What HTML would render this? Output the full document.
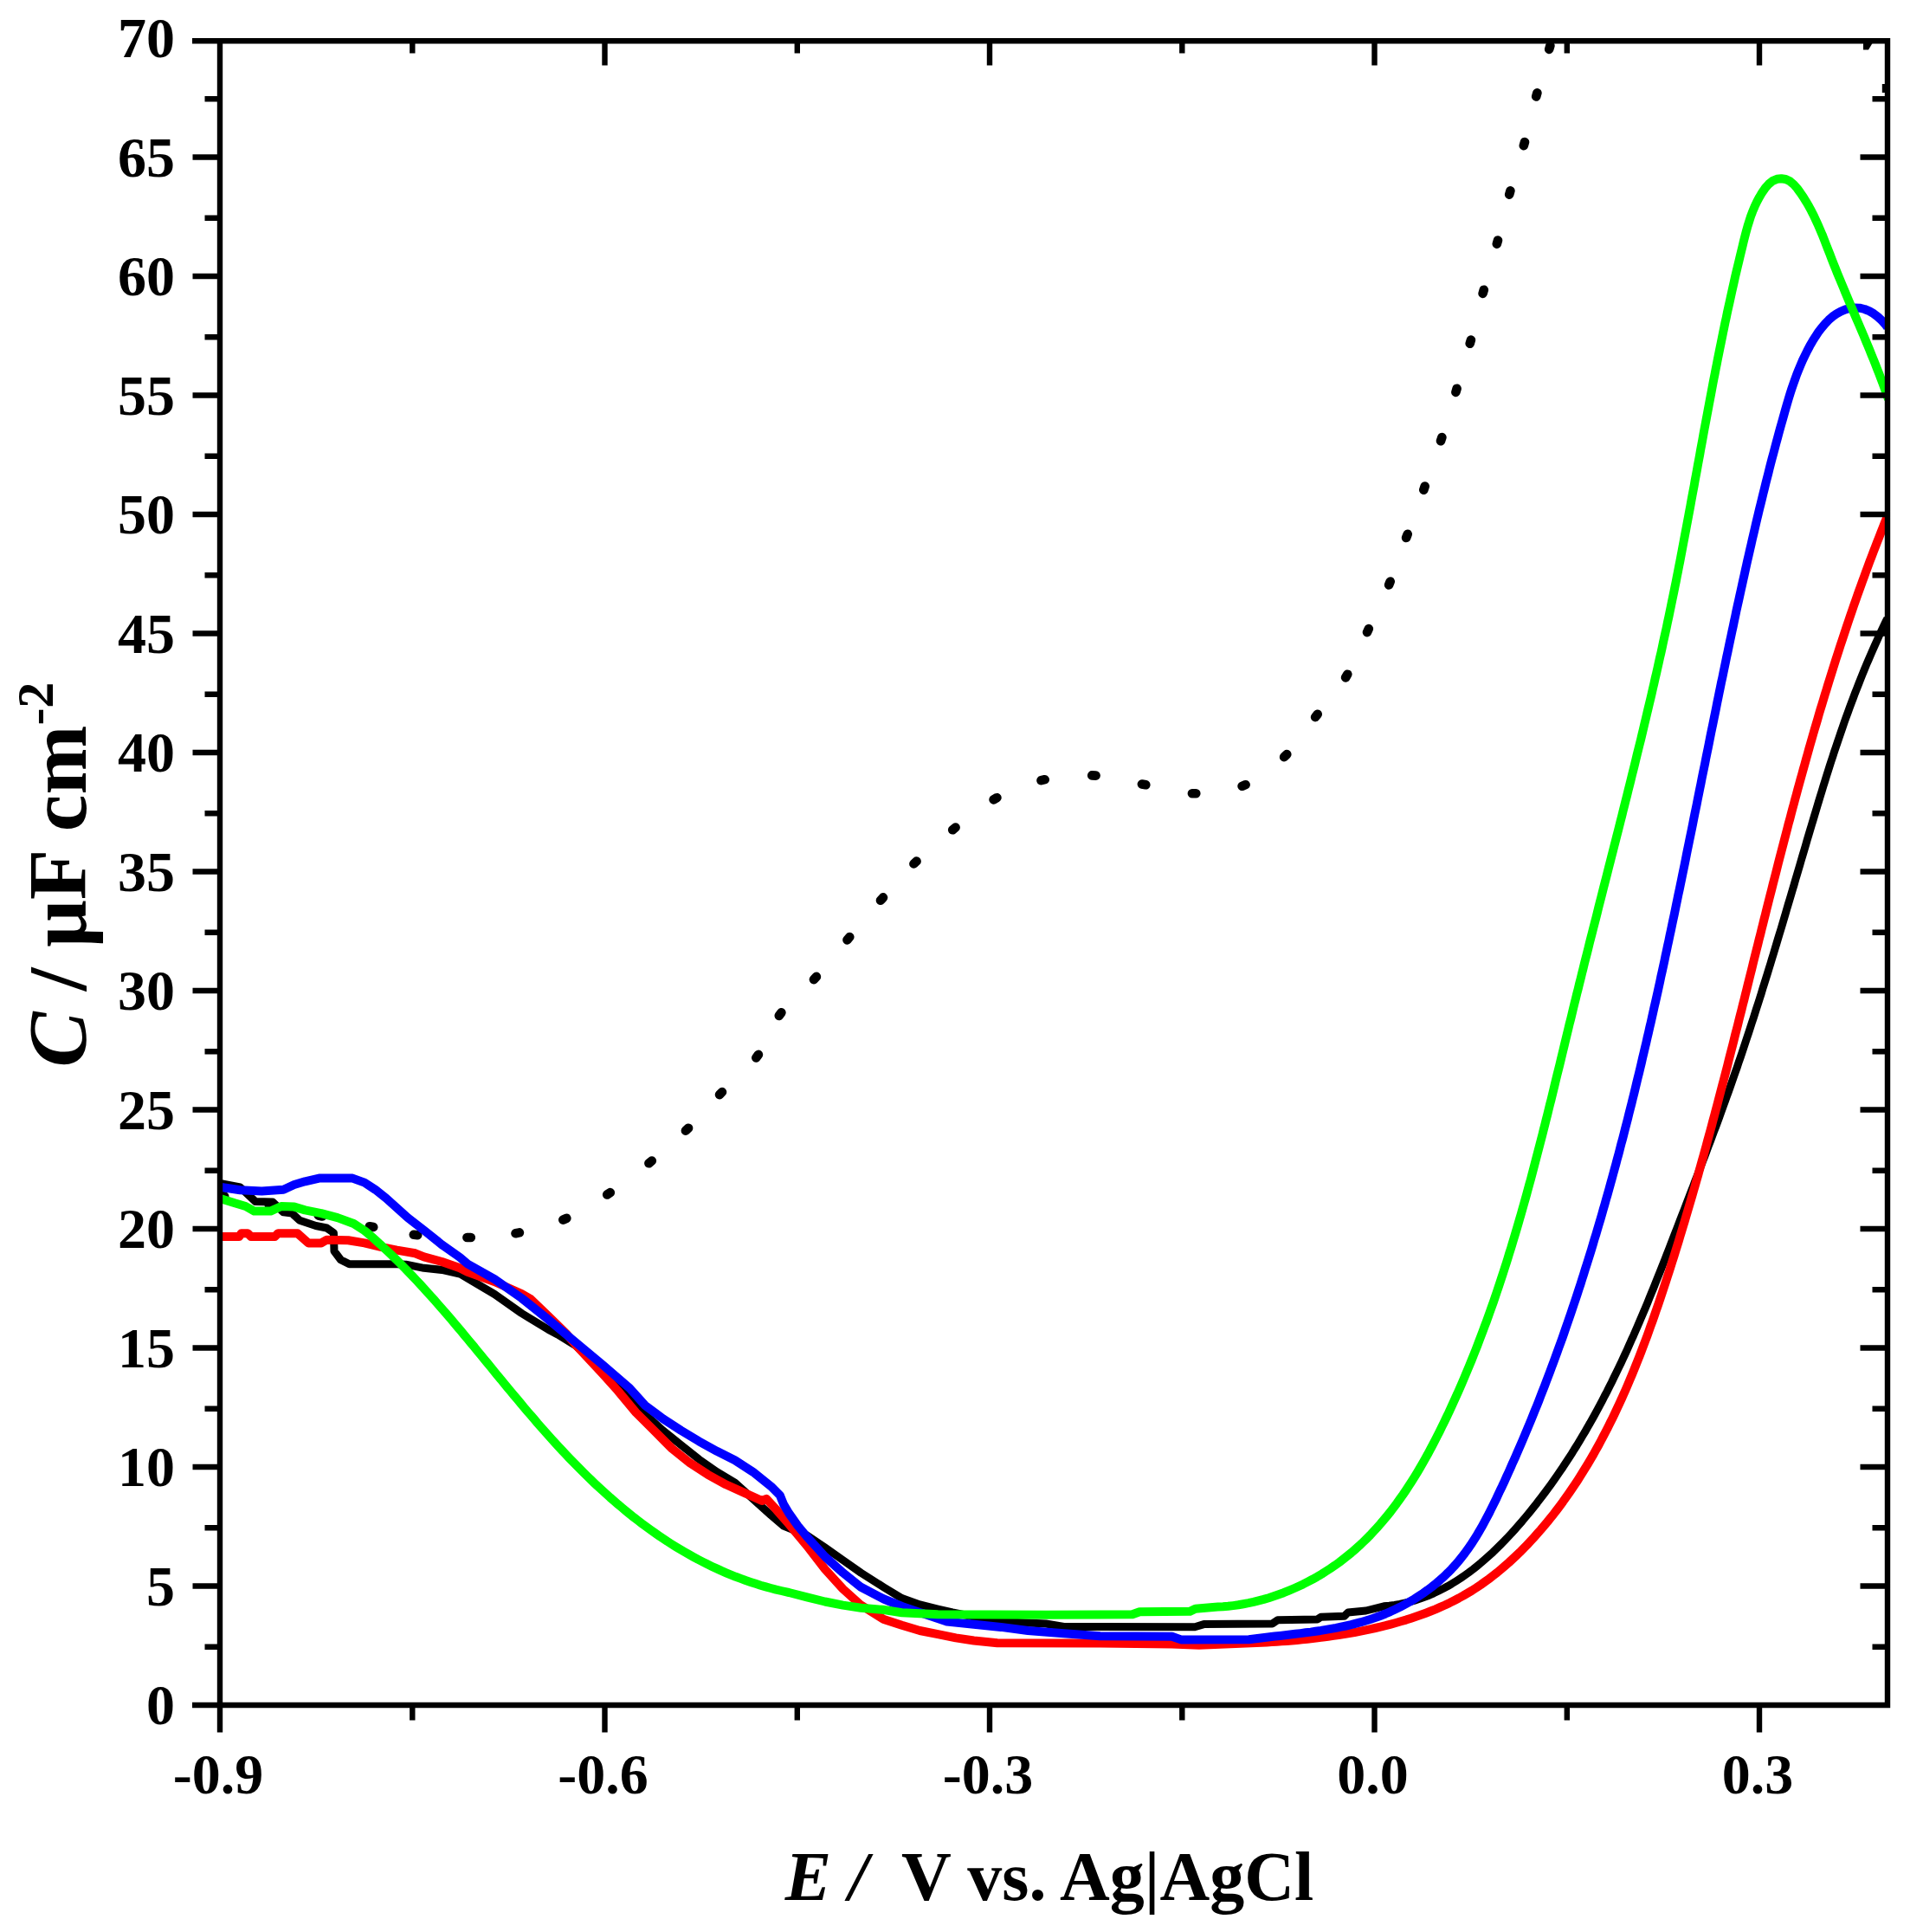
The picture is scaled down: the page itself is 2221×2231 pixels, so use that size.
<!DOCTYPE html>
<html><head><meta charset="utf-8"><title>Capacitance vs potential</title>
<style>html,body{margin:0;padding:0;background:#fff}body{width:2221px;height:2231px;position:relative;overflow:hidden}</style>
</head><body>
<svg width="2221" height="2231" viewBox="0 0 2221 2231" style="position:absolute;left:0;top:0">
<rect width="2221" height="2231" fill="#fff"/>
<defs><clipPath id="c"><rect x="254" y="47.3" width="1926" height="1921.7"/></clipPath></defs>
<g clip-path="url(#c)" fill="none" stroke-linejoin="round">
<path d="M254.8,1380.6L259.2,1381.4M310.8,1391.6L315.2,1392.4M367.8,1403.5L372.2,1404.5M426.8,1416.2L431.2,1417.0M477.8,1425.8L482.2,1426.2M539.4,1429.0L543.8,1429.0M595.5,1424.2L599.9,1423.4M650.3,1408.6L654.3,1406.8M701.2,1379.5L704.8,1377.1M749.4,1343.3L752.8,1340.5M791.9,1305.7L795.1,1302.7M831.0,1264.2L834.0,1261.0M873.3,1221.5L875.9,1217.9M899.8,1172.9L902.4,1169.3M939.9,1131.1L942.9,1127.9M978.5,1085.4L981.3,1082.0M1017.0,1039.8L1020.0,1036.4M1055.4,997.5L1058.6,994.5M1100.2,958.3L1103.6,955.5M1147.6,923.4L1151.4,921.2M1202.5,901.2L1206.7,900.2M1261.2,895.4L1265.6,895.6M1318.9,905.5L1323.3,906.3M1376.9,916.3L1381.3,916.3M1434.6,907.8L1438.6,906.2M1483.1,874.1L1486.3,871.1M1519.1,828.1L1521.7,824.7M1554.1,782.5L1556.3,778.7M1579.0,730.1L1580.8,726.1M1604.1,675.5L1605.7,671.5M1624.1,621.0L1625.7,616.8M1644.3,565.7L1645.7,561.5M1664.0,509.2L1665.4,505.0M1681.4,452.9L1682.6,448.7M1697.7,396.8L1698.9,392.6M1712.6,338.9L1713.8,334.7M1728.8,281.7L1730.0,277.5M1743.2,224.6L1744.4,220.4M1759.8,168.2L1761.0,164.0M1774.2,111.5L1775.4,107.3M1789.2,56.9L1790.4,52.7" stroke="#000" stroke-width="10.6" stroke-linecap="round"/>
<path d="M254.0,1366.5 L277.4,1371.0 L294.9,1387.4 L314.9,1388.0 L327.4,1399.9 L337.3,1401.1 L346.1,1409.2 L364.8,1415.5 L377.3,1418.0 L385.4,1423.6 L386.0,1444.8 L393.5,1454.8 L403.5,1459.8 L458.4,1459.8 L468.8,1460.2 L489.6,1464.3 L510.4,1466.4 L531.2,1471.0 L540.0,1476.2 L571.2,1494.5 L602.4,1516.5 L633.6,1535.5 L644.0,1541.0 L665.0,1554.0 L696.0,1582.0 L724.0,1610.0 L744.8,1633.1 L765.6,1651.8 L786.4,1668.5 L807.2,1685.1 L828.0,1699.7 L848.8,1712.2 L869.6,1730.9 L890.4,1749.6 L905.0,1762.1 L932.0,1773.0 L952.8,1787.0 L973.6,1801.6 L994.4,1816.2 L1020.8,1833.0 L1041.6,1845.6 L1062.4,1852.9 L1083.2,1858.1 L1100.0,1862.0 L1130.0,1868.0 L1154.0,1872.6 L1208.0,1875.0 L1228.8,1878.5 L1380.0,1878.7 L1390.4,1875.6 L1469.4,1875.0 L1475.7,1870.8 L1521.4,1870.0 L1525.6,1867.3 L1552.6,1866.2 L1556.8,1862.1 L1577.6,1860.0 L1598.4,1854.8 L1604.6,1854.2 L1610.6,1853.4 L1616.5,1852.4 L1622.4,1851.1 L1628.2,1849.7 L1633.9,1848.1 L1639.5,1846.3 L1645.1,1844.3 L1650.6,1842.2 L1656.0,1839.8 L1661.3,1837.3 L1666.6,1834.6 L1671.8,1831.8 L1676.9,1828.8 L1681.9,1825.7 L1686.9,1822.5 L1691.8,1819.1 L1696.7,1815.6 L1701.5,1812.0 L1706.2,1808.2 L1710.8,1804.4 L1715.4,1800.4 L1719.9,1796.4 L1724.4,1792.3 L1728.8,1788.0 L1733.1,1783.7 L1737.4,1779.4 L1741.6,1775.0 L1745.8,1770.5 L1749.9,1765.9 L1754.0,1761.3 L1758.0,1756.7 L1761.9,1752.0 L1765.8,1747.3 L1769.6,1742.6 L1773.4,1737.9 L1777.1,1733.1 L1780.8,1728.3 L1784.4,1723.5 L1788.0,1718.6 L1791.5,1713.8 L1795.0,1708.9 L1798.4,1704.0 L1801.8,1699.0 L1805.2,1694.1 L1808.5,1689.1 L1811.8,1684.1 L1815.0,1679.1 L1818.1,1674.0 L1821.3,1669.0 L1824.4,1663.9 L1827.4,1658.8 L1830.5,1653.7 L1833.4,1648.5 L1836.4,1643.4 L1839.3,1638.2 L1842.2,1633.0 L1845.0,1627.8 L1847.8,1622.6 L1850.6,1617.3 L1853.3,1612.0 L1856.1,1606.8 L1858.7,1601.5 L1861.4,1596.2 L1864.0,1590.8 L1866.6,1585.5 L1869.2,1580.1 L1871.8,1574.8 L1874.3,1569.4 L1876.8,1564.0 L1879.3,1558.6 L1881.7,1553.2 L1884.1,1547.7 L1886.6,1542.3 L1889.0,1536.8 L1891.3,1531.4 L1893.7,1525.9 L1896.0,1520.4 L1898.4,1514.9 L1900.7,1509.4 L1903.0,1503.9 L1905.2,1498.3 L1907.5,1492.8 L1909.8,1487.2 L1912.0,1481.7 L1914.2,1476.1 L1916.5,1470.5 L1918.7,1465.0 L1920.9,1459.4 L1923.1,1453.8 L1925.3,1448.2 L1927.5,1442.6 L1929.6,1437.0 L1931.8,1431.4 L1934.0,1425.7 L1936.2,1420.1 L1938.4,1414.5 L1940.5,1408.8 L1942.7,1403.2 L1944.9,1397.6 L1947.1,1391.9 L1949.2,1386.3 L1951.4,1380.6 L1953.6,1375.0 L1955.8,1369.3 L1957.9,1363.7 L1960.1,1358.0 L1962.3,1352.3 L1964.4,1346.7 L1966.6,1341.0 L1968.8,1335.3 L1970.9,1329.7 L1973.0,1324.0 L1975.2,1318.3 L1977.3,1312.6 L1979.4,1306.9 L1981.6,1301.3 L1983.7,1295.6 L1985.8,1289.9 L1987.8,1284.2 L1989.9,1278.5 L1992.0,1272.8 L1994.0,1267.1 L1996.1,1261.4 L1998.1,1255.7 L2000.1,1250.0 L2002.1,1244.3 L2004.1,1238.6 L2006.1,1232.9 L2008.0,1227.2 L2010.0,1221.5 L2011.9,1215.8 L2013.8,1210.1 L2015.7,1204.4 L2017.6,1198.7 L2019.5,1193.0 L2021.4,1187.2 L2023.2,1181.5 L2025.1,1175.8 L2026.9,1170.1 L2028.7,1164.4 L2030.6,1158.7 L2032.4,1153.0 L2034.2,1147.3 L2035.9,1141.5 L2037.7,1135.8 L2039.5,1130.1 L2041.3,1124.4 L2043.0,1118.7 L2044.8,1113.0 L2046.5,1107.2 L2048.3,1101.5 L2050.0,1095.8 L2051.7,1090.1 L2053.4,1084.4 L2055.1,1078.7 L2056.9,1073.0 L2058.6,1067.3 L2060.3,1061.5 L2062.0,1055.8 L2063.6,1050.1 L2065.3,1044.4 L2067.0,1038.7 L2068.7,1033.0 L2070.4,1027.3 L2072.1,1021.6 L2073.7,1015.9 L2075.4,1010.2 L2077.1,1004.5 L2078.8,998.8 L2080.4,993.1 L2082.1,987.4 L2083.8,981.7 L2085.5,976.0 L2087.1,970.3 L2088.8,964.6 L2090.5,958.9 L2092.2,953.3 L2093.9,947.6 L2095.6,941.9 L2097.3,936.2 L2099.0,930.5 L2100.7,924.9 L2102.4,919.2 L2104.2,913.5 L2105.9,907.8 L2107.7,902.2 L2109.4,896.5 L2111.2,890.9 L2113.0,885.2 L2114.8,879.5 L2116.7,873.9 L2118.5,868.2 L2120.4,862.6 L2122.3,857.0 L2124.2,851.3 L2126.1,845.7 L2128.1,840.0 L2130.0,834.4 L2132.0,828.8 L2134.1,823.2 L2136.1,817.5 L2138.2,811.9 L2140.3,806.3 L2142.4,800.7 L2144.6,795.1 L2146.8,789.5 L2149.0,783.9 L2151.2,778.3 L2153.5,772.7 L2155.8,767.1 L2158.2,761.6 L2160.6,756.0 L2163.0,750.4 L2165.5,744.8 L2168.0,739.3 L2170.5,733.7 L2173.1,728.2 L2175.7,722.6 L2178.4,717.1 L2180.0,714.0" stroke="#000" stroke-width="9"/>
<path d="M254.0,1428.0 L276.2,1428.0 L278.7,1424.2 L286.2,1424.2 L289.9,1428.0 L317.4,1428.0 L321.1,1424.2 L343.6,1424.2 L356.1,1435.4 L371.0,1435.4 L377.3,1431.7 L402.2,1432.3 L421.0,1435.4 L439.7,1439.8 L458.4,1443.6 L479.6,1447.3 L489.6,1451.4 L510.4,1457.0 L531.2,1464.3 L540.0,1468.9 L571.0,1480.0 L602.4,1494.0 L612.8,1500.0 L633.6,1520.0 L654.0,1540.0 L665.0,1553.0 L696.0,1586.4 L713.6,1606.0 L734.4,1631.0 L755.2,1651.8 L776.0,1672.6 L796.8,1689.3 L817.6,1702.8 L838.4,1714.3 L859.2,1723.6 L880.0,1733.0 L885.2,1730.9 L896.7,1743.4 L911.2,1760.0 L932.0,1785.0 L952.8,1812.0 L973.6,1834.9 L994.4,1853.6 L1020.8,1870.0 L1041.6,1876.8 L1062.4,1883.0 L1083.2,1887.2 L1104.0,1891.4 L1124.8,1894.5 L1151.8,1897.2 L1270.4,1897.6 L1353.6,1898.6 L1384.8,1899.7 L1463.2,1896.4 L1468.9,1896.1 L1474.6,1895.7 L1480.4,1895.3 L1486.3,1894.9 L1492.1,1894.4 L1498.1,1893.9 L1504.0,1893.3 L1510.0,1892.7 L1515.9,1892.0 L1522.0,1891.3 L1528.0,1890.6 L1534.0,1889.8 L1540.1,1888.9 L1546.1,1888.0 L1552.2,1887.1 L1558.2,1886.0 L1564.3,1885.0 L1570.3,1883.8 L1576.4,1882.6 L1582.4,1881.3 L1588.4,1880.0 L1594.4,1878.6 L1600.3,1877.2 L1606.3,1875.6 L1612.2,1874.0 L1618.0,1872.3 L1623.9,1870.6 L1629.7,1868.7 L1635.4,1866.8 L1641.1,1864.8 L1646.8,1862.7 L1652.4,1860.5 L1657.9,1858.3 L1663.4,1855.9 L1668.9,1853.5 L1674.3,1850.9 L1679.6,1848.2 L1684.8,1845.5 L1690.0,1842.6 L1695.1,1839.6 L1700.2,1836.6 L1705.2,1833.4 L1710.1,1830.1 L1714.9,1826.7 L1719.7,1823.2 L1724.3,1819.6 L1729.0,1816.0 L1733.5,1812.2 L1738.0,1808.4 L1742.5,1804.5 L1746.8,1800.5 L1751.1,1796.5 L1755.4,1792.4 L1759.5,1788.2 L1763.7,1784.0 L1767.7,1779.7 L1771.7,1775.3 L1775.6,1770.9 L1779.5,1766.5 L1783.3,1762.0 L1787.1,1757.5 L1790.8,1752.9 L1794.5,1748.3 L1798.1,1743.6 L1801.6,1738.9 L1805.1,1734.2 L1808.5,1729.4 L1811.9,1724.6 L1815.3,1719.7 L1818.6,1714.8 L1821.8,1709.9 L1825.0,1704.9 L1828.1,1699.9 L1831.2,1694.9 L1834.3,1689.8 L1837.3,1684.7 L1840.3,1679.6 L1843.2,1674.4 L1846.1,1669.2 L1848.9,1664.0 L1851.7,1658.7 L1854.4,1653.4 L1857.2,1648.1 L1859.8,1642.8 L1862.5,1637.4 L1865.1,1632.0 L1867.6,1626.6 L1870.2,1621.1 L1872.7,1615.7 L1875.1,1610.2 L1877.6,1604.7 L1880.0,1599.1 L1882.3,1593.6 L1884.7,1588.0 L1887.0,1582.4 L1889.2,1576.8 L1891.5,1571.2 L1893.7,1565.6 L1895.9,1559.9 L1898.0,1554.2 L1900.2,1548.5 L1902.3,1542.9 L1904.4,1537.1 L1906.4,1531.4 L1908.5,1525.7 L1910.5,1520.0 L1912.5,1514.2 L1914.5,1508.5 L1916.5,1502.7 L1918.4,1496.9 L1920.3,1491.1 L1922.2,1485.4 L1924.1,1479.6 L1926.0,1473.8 L1927.9,1468.0 L1929.7,1462.2 L1931.5,1456.4 L1933.4,1450.6 L1935.2,1444.8 L1937.0,1439.0 L1938.8,1433.2 L1940.5,1427.4 L1942.3,1421.6 L1944.0,1415.8 L1945.8,1410.0 L1947.5,1404.2 L1949.2,1398.4 L1950.9,1392.6 L1952.6,1386.8 L1954.3,1381.0 L1956.0,1375.2 L1957.7,1369.4 L1959.3,1363.6 L1961.0,1357.8 L1962.6,1351.9 L1964.2,1346.1 L1965.8,1340.3 L1967.5,1334.5 L1969.1,1328.7 L1970.7,1322.9 L1972.2,1317.1 L1973.8,1311.3 L1975.4,1305.5 L1977.0,1299.7 L1978.5,1293.8 L1980.1,1288.0 L1981.6,1282.2 L1983.2,1276.4 L1984.7,1270.6 L1986.2,1264.8 L1987.7,1259.0 L1989.2,1253.2 L1990.8,1247.3 L1992.3,1241.5 L1993.8,1235.7 L1995.3,1229.9 L1996.7,1224.1 L1998.2,1218.3 L1999.7,1212.5 L2001.2,1206.7 L2002.7,1200.8 L2004.1,1195.0 L2005.6,1189.2 L2007.1,1183.4 L2008.5,1177.6 L2010.0,1171.8 L2011.5,1166.0 L2012.9,1160.2 L2014.4,1154.4 L2015.8,1148.6 L2017.3,1142.8 L2018.7,1137.0 L2020.2,1131.1 L2021.6,1125.3 L2023.1,1119.5 L2024.5,1113.7 L2025.9,1107.9 L2027.4,1102.1 L2028.8,1096.3 L2030.3,1090.5 L2031.7,1084.7 L2033.2,1078.9 L2034.6,1073.1 L2036.1,1067.3 L2037.5,1061.5 L2039.0,1055.7 L2040.4,1049.9 L2041.9,1044.1 L2043.3,1038.4 L2044.8,1032.6 L2046.3,1026.8 L2047.7,1021.0 L2049.2,1015.2 L2050.7,1009.4 L2052.2,1003.6 L2053.6,997.8 L2055.1,992.1 L2056.6,986.3 L2058.1,980.5 L2059.6,974.7 L2061.1,968.9 L2062.6,963.2 L2064.1,957.4 L2065.6,951.6 L2067.2,945.8 L2068.7,940.1 L2070.2,934.3 L2071.8,928.5 L2073.3,922.8 L2074.9,917.0 L2076.4,911.2 L2078.0,905.5 L2079.6,899.7 L2081.2,894.0 L2082.8,888.2 L2084.4,882.5 L2086.0,876.7 L2087.6,871.0 L2089.2,865.2 L2090.8,859.5 L2092.5,853.7 L2094.1,848.0 L2095.8,842.2 L2097.5,836.5 L2099.2,830.8 L2100.8,825.0 L2102.5,819.3 L2104.3,813.6 L2106.0,807.9 L2107.7,802.1 L2109.5,796.4 L2111.2,790.7 L2113.0,785.0 L2114.8,779.3 L2116.6,773.5 L2118.4,767.8 L2120.2,762.1 L2122.0,756.4 L2123.9,750.7 L2125.7,745.0 L2127.6,739.3 L2129.5,733.6 L2131.4,727.9 L2133.3,722.2 L2135.2,716.5 L2137.1,710.9 L2139.1,705.2 L2141.0,699.5 L2143.0,693.8 L2145.0,688.1 L2147.0,682.5 L2149.1,676.8 L2151.1,671.1 L2153.2,665.5 L2155.2,659.8 L2157.3,654.2 L2159.4,648.5 L2161.6,642.9 L2163.7,637.2 L2165.9,631.6 L2168.1,625.9 L2170.3,620.3 L2172.5,614.7 L2174.7,609.0 L2176.9,603.4 L2179.2,597.8 L2180.0,596.0" stroke="#f00" stroke-width="10"/>
<path d="M254.0,1370.7 L257.5,1371.2 L277.4,1374.3 L302.4,1375.5 L327.4,1373.7 L339.8,1368.0 L352.3,1364.3 L368.5,1360.6 L407.2,1360.6 L421.0,1365.6 L433.4,1373.7 L445.9,1383.6 L458.4,1394.9 L470.9,1406.1 L489.6,1420.6 L510.4,1437.3 L531.2,1452.0 L540.0,1459.5 L571.2,1477.2 L602.4,1499.0 L633.6,1524.0 L664.8,1550.0 L696.0,1576.0 L727.2,1603.0 L744.8,1622.7 L765.6,1638.3 L786.4,1651.8 L807.2,1664.3 L828.0,1675.8 L848.8,1686.2 L869.6,1699.7 L890.4,1716.3 L900.8,1726.7 L905.0,1737.1 L911.2,1747.5 L921.6,1762.1 L932.0,1774.6 L952.8,1797.5 L973.6,1816.2 L994.4,1832.8 L1020.8,1846.5 L1041.6,1855.0 L1062.4,1862.0 L1093.6,1872.6 L1124.8,1875.8 L1156.0,1878.9 L1187.2,1883.0 L1228.8,1886.2 L1270.4,1889.3 L1353.6,1889.7 L1364.0,1893.4 L1442.4,1893.3 L1448.4,1892.5 L1454.4,1891.7 L1460.4,1891.0 L1466.4,1890.2 L1472.3,1889.5 L1478.3,1888.9 L1484.3,1888.2 L1490.2,1887.5 L1496.1,1886.8 L1502.1,1886.1 L1508.0,1885.3 L1513.9,1884.6 L1519.7,1883.7 L1525.6,1882.9 L1531.5,1881.9 L1537.3,1880.9 L1543.1,1879.9 L1548.9,1878.7 L1554.7,1877.5 L1560.5,1876.2 L1566.2,1874.7 L1571.9,1873.2 L1577.6,1871.5 L1583.3,1869.7 L1589.0,1867.8 L1594.6,1865.7 L1600.2,1863.5 L1605.8,1861.1 L1611.3,1858.5 L1616.9,1855.8 L1622.4,1852.9 L1627.8,1849.9 L1633.1,1846.7 L1638.4,1843.3 L1643.6,1839.8 L1648.7,1836.2 L1653.7,1832.5 L1658.5,1828.6 L1663.2,1824.6 L1667.8,1820.5 L1672.2,1816.2 L1676.4,1811.9 L1680.5,1807.5 L1684.4,1802.9 L1688.2,1798.3 L1691.8,1793.6 L1695.3,1788.8 L1698.7,1783.9 L1701.9,1779.0 L1705.1,1774.0 L1708.1,1768.9 L1711.1,1763.8 L1713.9,1758.6 L1716.7,1753.4 L1719.5,1748.2 L1722.1,1742.9 L1724.8,1737.6 L1727.4,1732.3 L1729.9,1726.9 L1732.4,1721.5 L1735.0,1716.2 L1737.5,1710.8 L1739.9,1705.4 L1742.4,1700.0 L1744.8,1694.6 L1747.2,1689.1 L1749.7,1683.7 L1752.0,1678.3 L1754.4,1672.8 L1756.8,1667.3 L1759.1,1661.9 L1761.4,1656.4 L1763.7,1650.9 L1766.0,1645.4 L1768.3,1639.9 L1770.5,1634.4 L1772.7,1628.9 L1775.0,1623.4 L1777.2,1617.8 L1779.3,1612.3 L1781.5,1606.7 L1783.7,1601.2 L1785.8,1595.6 L1787.9,1590.0 L1790.0,1584.4 L1792.1,1578.8 L1794.2,1573.2 L1796.3,1567.6 L1798.3,1562.0 L1800.3,1556.4 L1802.4,1550.8 L1804.4,1545.2 L1806.4,1539.5 L1808.3,1533.9 L1810.3,1528.2 L1812.2,1522.6 L1814.2,1516.9 L1816.1,1511.2 L1818.0,1505.5 L1819.9,1499.9 L1821.8,1494.2 L1823.6,1488.5 L1825.5,1482.8 L1827.3,1477.1 L1829.1,1471.4 L1830.9,1465.6 L1832.7,1459.9 L1834.5,1454.2 L1836.3,1448.4 L1838.1,1442.7 L1839.8,1437.0 L1841.5,1431.2 L1843.3,1425.5 L1845.0,1419.7 L1846.7,1413.9 L1848.4,1408.2 L1850.1,1402.4 L1851.7,1396.6 L1853.4,1390.8 L1855.0,1385.0 L1856.7,1379.3 L1858.3,1373.5 L1859.9,1367.7 L1861.5,1361.9 L1863.1,1356.0 L1864.7,1350.2 L1866.3,1344.4 L1867.8,1338.6 L1869.4,1332.8 L1870.9,1327.0 L1872.4,1321.1 L1874.0,1315.3 L1875.5,1309.5 L1877.0,1303.6 L1878.5,1297.8 L1880.0,1292.0 L1881.4,1286.1 L1882.9,1280.3 L1884.4,1274.4 L1885.8,1268.6 L1887.3,1262.7 L1888.7,1256.8 L1890.1,1251.0 L1891.5,1245.1 L1893.0,1239.3 L1894.4,1233.4 L1895.8,1227.5 L1897.1,1221.7 L1898.5,1215.8 L1899.9,1209.9 L1901.3,1204.1 L1902.6,1198.2 L1904.0,1192.3 L1905.3,1186.4 L1906.7,1180.6 L1908.0,1174.7 L1909.3,1168.8 L1910.6,1162.9 L1912.0,1157.0 L1913.3,1151.2 L1914.6,1145.3 L1915.9,1139.4 L1917.2,1133.5 L1918.4,1127.6 L1919.7,1121.8 L1921.0,1115.9 L1922.3,1110.0 L1923.5,1104.1 L1924.8,1098.2 L1926.0,1092.3 L1927.3,1086.5 L1928.5,1080.6 L1929.8,1074.7 L1931.0,1068.8 L1932.2,1062.9 L1933.5,1057.1 L1934.7,1051.2 L1935.9,1045.3 L1937.1,1039.4 L1938.3,1033.6 L1939.6,1027.7 L1940.8,1021.8 L1942.0,1016.0 L1943.2,1010.1 L1944.4,1004.2 L1945.6,998.4 L1946.8,992.5 L1947.9,986.7 L1949.1,980.8 L1950.3,974.9 L1951.5,969.1 L1952.7,963.2 L1953.9,957.4 L1955.1,951.5 L1956.2,945.7 L1957.4,939.8 L1958.6,934.0 L1959.8,928.2 L1960.9,922.3 L1962.1,916.5 L1963.3,910.6 L1964.5,904.8 L1965.6,898.9 L1966.8,893.1 L1968.0,887.2 L1969.2,881.4 L1970.3,875.6 L1971.5,869.7 L1972.7,863.9 L1973.9,858.0 L1975.0,852.2 L1976.2,846.3 L1977.4,840.5 L1978.6,834.7 L1979.8,828.8 L1981.0,823.0 L1982.2,817.1 L1983.3,811.3 L1984.5,805.4 L1985.7,799.6 L1986.9,793.7 L1988.1,787.8 L1989.4,782.0 L1990.6,776.1 L1991.8,770.3 L1993.0,764.4 L1994.2,758.5 L1995.5,752.7 L1996.7,746.8 L1997.9,740.9 L1999.2,735.0 L2000.4,729.2 L2001.7,723.3 L2002.9,717.4 L2004.2,711.5 L2005.4,705.6 L2006.7,699.7 L2008.0,693.8 L2009.3,687.9 L2010.6,682.0 L2011.9,676.1 L2013.2,670.2 L2014.5,664.3 L2015.8,658.4 L2017.1,652.5 L2018.4,646.6 L2019.8,640.7 L2021.1,634.8 L2022.5,628.9 L2023.8,623.0 L2025.2,617.1 L2026.6,611.2 L2027.9,605.3 L2029.3,599.4 L2030.7,593.6 L2032.1,587.7 L2033.6,581.8 L2035.0,576.0 L2036.4,570.1 L2037.9,564.2 L2039.3,558.4 L2040.8,552.6 L2042.3,546.7 L2043.7,540.9 L2045.2,535.1 L2046.7,529.3 L2048.3,523.5 L2049.8,517.7 L2051.3,512.0 L2052.9,506.2 L2054.4,500.5 L2056.0,494.7 L2057.6,489.0 L2059.2,483.3 L2060.8,477.6 L2062.4,471.9 L2064.0,466.3 L2065.7,460.6 L2067.4,455.0 L2069.2,449.4 L2071.1,443.8 L2073.1,438.2 L2075.1,432.6 L2077.3,427.1 L2079.6,421.6 L2082.0,416.0 L2084.6,410.6 L2087.3,405.1 L2090.2,399.6 L2093.3,394.2 L2096.6,388.9 L2100.1,383.6 L2103.8,378.7 L2107.8,374.0 L2112.0,369.6 L2116.4,365.7 L2121.1,362.4 L2126.1,359.6 L2131.4,357.4 L2136.8,356.0 L2142.3,355.5 L2147.9,355.7 L2153.4,357.0 L2158.8,359.2 L2164.0,362.2 L2169.0,366.0 L2173.7,370.4 L2178.0,375.3 L2180.0,378.0" stroke="#00f" stroke-width="10"/>
<path d="M254.0,1384.0 L257.5,1384.9 L271.2,1389.3 L283.7,1393.0 L293.7,1398.6 L312.4,1398.6 L324.9,1393.0 L339.8,1393.6 L352.3,1397.4 L371.0,1401.1 L389.8,1406.1 L408.5,1413.0 L421.0,1421.1 L425.6,1424.9 L430.1,1428.8 L434.5,1432.8 L438.9,1436.7 L443.3,1440.8 L447.6,1444.8 L451.9,1448.9 L456.2,1453.1 L460.4,1457.3 L464.6,1461.5 L468.8,1465.7 L472.9,1470.0 L477.0,1474.3 L481.1,1478.6 L485.2,1483.0 L489.2,1487.4 L493.2,1491.8 L497.2,1496.3 L501.2,1500.7 L505.2,1505.2 L509.1,1509.7 L513.1,1514.2 L517.0,1518.8 L520.9,1523.3 L524.8,1527.9 L528.6,1532.5 L532.5,1537.1 L536.3,1541.7 L540.2,1546.4 L544.0,1551.0 L547.9,1555.6 L551.7,1560.3 L555.5,1564.9 L559.3,1569.6 L563.2,1574.3 L567.0,1578.9 L570.8,1583.6 L574.6,1588.3 L578.5,1592.9 L582.3,1597.6 L586.1,1602.2 L590.0,1606.9 L593.8,1611.5 L597.7,1616.1 L601.6,1620.8 L605.4,1625.4 L609.3,1630.0 L613.3,1634.5 L617.2,1639.1 L621.1,1643.7 L625.1,1648.2 L629.1,1652.7 L633.1,1657.2 L637.1,1661.7 L641.1,1666.1 L645.2,1670.6 L649.3,1675.0 L653.4,1679.4 L657.5,1683.7 L661.7,1688.0 L665.9,1692.3 L670.1,1696.6 L674.3,1700.8 L678.6,1705.0 L682.9,1709.2 L687.2,1713.3 L691.6,1717.4 L696.0,1721.4 L700.4,1725.4 L704.8,1729.4 L709.3,1733.3 L713.8,1737.2 L718.4,1741.0 L723.0,1744.8 L727.6,1748.6 L732.2,1752.3 L736.9,1755.9 L741.6,1759.5 L746.4,1763.0 L751.2,1766.5 L756.0,1769.9 L760.9,1773.3 L765.8,1776.6 L770.7,1779.9 L775.7,1783.1 L780.7,1786.2 L785.8,1789.3 L790.9,1792.3 L796.0,1795.2 L801.2,1798.1 L806.4,1800.9 L811.7,1803.6 L817.0,1806.3 L822.4,1808.9 L827.8,1811.4 L833.2,1813.9 L838.7,1816.3 L844.3,1818.6 L849.8,1820.8 L855.5,1822.9 L861.2,1825.0 L866.9,1826.9 L872.7,1828.8 L878.5,1830.7 L884.4,1832.4 L890.3,1834.0 L896.3,1835.6 L902.3,1837.0 L908.4,1838.4 L911.2,1839.0 L932.0,1844.3 L952.8,1849.5 L973.6,1853.6 L994.4,1856.7 L1019.4,1858.8 L1041.6,1862.2 L1083.2,1864.3 L1208.0,1864.7 L1307.9,1864.3 L1316.2,1861.2 L1374.4,1860.8 L1380.7,1857.7 L1400.8,1855.9 L1406.7,1855.6 L1412.5,1855.3 L1418.4,1854.8 L1424.3,1854.1 L1430.2,1853.3 L1436.1,1852.3 L1441.9,1851.2 L1447.8,1849.9 L1453.7,1848.4 L1459.5,1846.9 L1465.3,1845.2 L1471.1,1843.3 L1476.9,1841.3 L1482.6,1839.2 L1488.3,1836.9 L1493.9,1834.5 L1499.5,1832.0 L1505.0,1829.4 L1510.4,1826.6 L1515.8,1823.8 L1521.2,1820.8 L1526.4,1817.7 L1531.6,1814.4 L1536.7,1811.1 L1541.7,1807.7 L1546.6,1804.2 L1551.4,1800.5 L1556.1,1796.8 L1560.8,1793.0 L1565.3,1789.1 L1569.8,1785.1 L1574.1,1781.0 L1578.4,1776.8 L1582.6,1772.6 L1586.7,1768.2 L1590.7,1763.8 L1594.7,1759.3 L1598.5,1754.8 L1602.3,1750.2 L1606.1,1745.5 L1609.7,1740.7 L1613.3,1735.9 L1616.8,1731.0 L1620.3,1726.1 L1623.7,1721.1 L1627.0,1716.1 L1630.3,1711.0 L1633.5,1705.9 L1636.6,1700.8 L1639.7,1695.6 L1642.8,1690.3 L1645.7,1685.1 L1648.7,1679.8 L1651.6,1674.4 L1654.4,1669.1 L1657.2,1663.7 L1660.0,1658.3 L1662.7,1652.9 L1665.4,1647.4 L1668.1,1642.0 L1670.7,1636.5 L1673.3,1631.1 L1675.8,1625.6 L1678.3,1620.1 L1680.8,1614.6 L1683.3,1609.2 L1685.7,1603.7 L1688.1,1598.2 L1690.5,1592.6 L1692.8,1587.1 L1695.1,1581.6 L1697.4,1576.1 L1699.7,1570.5 L1701.9,1565.0 L1704.1,1559.5 L1706.3,1553.9 L1708.4,1548.3 L1710.5,1542.8 L1712.6,1537.2 L1714.7,1531.6 L1716.8,1526.1 L1718.8,1520.5 L1720.8,1514.9 L1722.8,1509.3 L1724.8,1503.7 L1726.7,1498.1 L1728.6,1492.5 L1730.5,1486.8 L1732.4,1481.2 L1734.2,1475.6 L1736.1,1469.9 L1737.9,1464.3 L1739.7,1458.7 L1741.5,1453.0 L1743.2,1447.3 L1745.0,1441.7 L1746.7,1436.0 L1748.4,1430.4 L1750.1,1424.7 L1751.8,1419.0 L1753.5,1413.3 L1755.1,1407.6 L1756.8,1401.9 L1758.4,1396.2 L1760.0,1390.5 L1761.6,1384.8 L1763.2,1379.1 L1764.7,1373.4 L1766.3,1367.7 L1767.9,1362.0 L1769.4,1356.2 L1770.9,1350.5 L1772.4,1344.8 L1773.9,1339.0 L1775.4,1333.3 L1776.9,1327.5 L1778.4,1321.8 L1779.9,1316.0 L1781.4,1310.3 L1782.8,1304.5 L1784.3,1298.7 L1785.7,1293.0 L1787.2,1287.2 L1788.6,1281.4 L1790.0,1275.6 L1791.5,1269.9 L1792.9,1264.1 L1794.3,1258.3 L1795.7,1252.5 L1797.1,1246.7 L1798.5,1240.9 L1800.0,1235.1 L1801.4,1229.3 L1802.8,1223.5 L1804.2,1217.7 L1805.6,1211.9 L1807.0,1206.0 L1808.4,1200.2 L1809.8,1194.4 L1811.2,1188.6 L1812.6,1182.7 L1814.1,1176.9 L1815.5,1171.1 L1816.9,1165.2 L1818.3,1159.4 L1819.8,1153.6 L1821.2,1147.7 L1822.7,1141.9 L1824.1,1136.0 L1825.6,1130.2 L1827.0,1124.3 L1828.5,1118.5 L1829.9,1112.6 L1831.4,1106.8 L1832.9,1100.9 L1834.4,1095.1 L1835.8,1089.2 L1837.3,1083.3 L1838.8,1077.5 L1840.3,1071.6 L1841.8,1065.7 L1843.3,1059.9 L1844.8,1054.0 L1846.2,1048.1 L1847.7,1042.2 L1849.2,1036.4 L1850.7,1030.5 L1852.2,1024.6 L1853.7,1018.7 L1855.2,1012.9 L1856.7,1007.0 L1858.2,1001.1 L1859.7,995.2 L1861.2,989.3 L1862.7,983.4 L1864.2,977.6 L1865.7,971.7 L1867.2,965.8 L1868.7,959.9 L1870.2,954.0 L1871.7,948.1 L1873.2,942.2 L1874.6,936.3 L1876.1,930.4 L1877.6,924.6 L1879.1,918.7 L1880.5,912.8 L1882.0,906.9 L1883.5,901.0 L1884.9,895.1 L1886.4,889.2 L1887.9,883.3 L1889.3,877.4 L1890.7,871.5 L1892.2,865.6 L1893.6,859.8 L1895.1,853.9 L1896.5,848.0 L1897.9,842.1 L1899.3,836.2 L1900.7,830.3 L1902.1,824.4 L1903.5,818.5 L1904.9,812.6 L1906.3,806.8 L1907.7,800.9 L1909.0,795.0 L1910.4,789.1 L1911.7,783.2 L1913.1,777.3 L1914.4,771.5 L1915.7,765.6 L1917.0,759.7 L1918.4,753.8 L1919.7,747.9 L1920.9,742.1 L1922.2,736.2 L1923.5,730.3 L1924.8,724.5 L1926.0,718.6 L1927.3,712.7 L1928.5,706.8 L1929.7,701.0 L1930.9,695.1 L1932.1,689.3 L1933.3,683.4 L1934.5,677.5 L1935.7,671.7 L1936.8,665.8 L1938.0,660.0 L1939.1,654.1 L1940.3,648.3 L1941.4,642.4 L1942.5,636.6 L1943.6,630.7 L1944.7,624.9 L1945.8,619.0 L1946.9,613.2 L1948.0,607.3 L1949.1,601.5 L1950.2,595.6 L1951.3,589.8 L1952.4,583.9 L1953.4,578.1 L1954.5,572.2 L1955.6,566.4 L1956.7,560.6 L1957.7,554.7 L1958.8,548.9 L1959.9,543.0 L1960.9,537.2 L1962.0,531.3 L1963.1,525.5 L1964.1,519.6 L1965.2,513.8 L1966.3,507.9 L1967.3,502.1 L1968.4,496.2 L1969.5,490.3 L1970.6,484.5 L1971.7,478.6 L1972.8,472.8 L1973.9,466.9 L1975.0,461.0 L1976.1,455.2 L1977.2,449.3 L1978.3,443.4 L1979.4,437.6 L1980.6,431.7 L1981.7,425.8 L1982.9,419.9 L1984.0,414.1 L1985.2,408.2 L1986.4,402.3 L1987.6,396.4 L1988.8,390.5 L1990.0,384.6 L1991.2,378.7 L1992.4,372.8 L1993.7,367.0 L1994.9,361.1 L1996.2,355.2 L1997.5,349.3 L1998.8,343.4 L2000.1,337.5 L2001.4,331.6 L2002.7,325.8 L2004.0,319.9 L2005.4,314.0 L2006.8,308.2 L2008.2,302.3 L2009.6,296.4 L2011.0,290.6 L2012.4,284.8 L2013.8,278.9 L2015.3,273.1 L2016.8,267.3 L2018.4,261.5 L2020.2,255.7 L2022.0,250.0 L2024.1,244.4 L2026.5,238.7 L2029.1,233.2 L2032.0,227.7 L2035.2,222.3 L2038.8,217.1 L2042.9,212.5 L2047.4,208.9 L2052.3,206.8 L2057.4,206.2 L2062.5,207.0 L2067.3,209.3 L2071.7,213.0 L2075.7,217.5 L2079.3,222.5 L2082.8,227.6 L2086.0,232.8 L2089.1,238.1 L2092.0,243.4 L2094.7,248.8 L2097.3,254.3 L2099.8,259.8 L2102.2,265.4 L2104.6,270.9 L2106.8,276.5 L2109.0,282.2 L2111.2,287.8 L2113.4,293.4 L2115.5,299.1 L2117.7,304.7 L2120.0,310.2 L2122.2,315.8 L2124.5,321.4 L2126.8,326.9 L2129.1,332.4 L2131.4,338.0 L2133.7,343.5 L2136.0,349.0 L2138.4,354.5 L2140.7,360.0 L2143.0,365.5 L2145.4,371.0 L2147.7,376.4 L2150.1,381.9 L2152.4,387.4 L2154.7,393.0 L2157.0,398.5 L2159.3,404.0 L2161.5,409.6 L2163.8,415.1 L2166.0,420.7 L2168.2,426.3 L2170.4,431.9 L2172.5,437.5 L2174.6,443.1 L2176.7,448.8 L2178.7,454.5 L2180.7,460.2 L2181.0,461.0" stroke="#0f0" stroke-width="10"/>
</g>
<path d="M254,44.099999999999994V2000.5M2180,44.099999999999994V1972.2M222,47.3H2183.2M222,1969H2183.2M236.5,1901.8H254M2180,1901.8H2162.5M222.5,1831.5H254M2180,1831.5H2148.5M236.5,1764.2H254M2180,1764.2H2162.5M222.5,1694.0H254M2180,1694.0H2148.5M236.5,1626.8H254M2180,1626.8H2162.5M222.5,1556.5H254M2180,1556.5H2148.5M236.5,1489.2H254M2180,1489.2H2162.5M222.5,1419.0H254M2180,1419.0H2148.5M236.5,1351.8H254M2180,1351.8H2162.5M222.5,1281.5H254M2180,1281.5H2148.5M236.5,1214.2H254M2180,1214.2H2162.5M222.5,1144.0H254M2180,1144.0H2148.5M236.5,1076.8H254M2180,1076.8H2162.5M222.5,1006.5H254M2180,1006.5H2148.5M236.5,939.2H254M2180,939.2H2162.5M222.5,869.0H254M2180,869.0H2148.5M236.5,801.8H254M2180,801.8H2162.5M222.5,731.5H254M2180,731.5H2148.5M236.5,664.2H254M2180,664.2H2162.5M222.5,594.0H254M2180,594.0H2148.5M236.5,526.8H254M2180,526.8H2162.5M222.5,456.5H254M2180,456.5H2148.5M236.5,389.2H254M2180,389.2H2162.5M222.5,319.0H254M2180,319.0H2148.5M236.5,251.8H254M2180,251.8H2162.5M222.5,181.5H254M2180,181.5H2148.5M236.5,114.2H254M2180,114.2H2162.5M476.3,1969V1986.5M476.3,47.3V61.5M698.5,1969V2000.5M698.5,47.3V75.5M920.8,1969V1986.5M920.8,47.3V61.5M1143.0,1969V2000.5M1143.0,47.3V75.5M1365.3,1969V1986.5M1365.3,47.3V61.5M1587.5,1969V2000.5M1587.5,47.3V75.5M1809.8,1969V1986.5M1809.8,47.3V61.5M2032.0,1969V2000.5M2032.0,47.3V75.5" stroke="#000" stroke-width="6.4" fill="none"/>
<path d="M2152,50H2162.5L2158,57.5H2152Z" fill="#000"/>
<rect x="2173.8" y="97" width="4" height="10" fill="#000"/>
<g font-family="'Liberation Serif', serif" font-weight="bold" fill="#000">
<text x="202" y="1991.2" font-size="66" text-anchor="end">0</text>
<text x="202" y="1853.7" font-size="66" text-anchor="end">5</text>
<text x="202" y="1716.2" font-size="66" text-anchor="end">10</text>
<text x="202" y="1578.7" font-size="66" text-anchor="end">15</text>
<text x="202" y="1441.2" font-size="66" text-anchor="end">20</text>
<text x="202" y="1303.7" font-size="66" text-anchor="end">25</text>
<text x="202" y="1166.2" font-size="66" text-anchor="end">30</text>
<text x="202" y="1028.7" font-size="66" text-anchor="end">35</text>
<text x="202" y="891.2" font-size="66" text-anchor="end">40</text>
<text x="202" y="753.7" font-size="66" text-anchor="end">45</text>
<text x="202" y="616.2" font-size="66" text-anchor="end">50</text>
<text x="202" y="478.7" font-size="66" text-anchor="end">55</text>
<text x="202" y="341.2" font-size="66" text-anchor="end">60</text>
<text x="202" y="203.7" font-size="66" text-anchor="end">65</text>
<text x="202" y="66.2" font-size="66" text-anchor="end">70</text>
<text x="252.0" y="2071" font-size="66" text-anchor="middle">-0.9</text>
<text x="696.5" y="2071" font-size="66" text-anchor="middle">-0.6</text>
<text x="1141.0" y="2071" font-size="66" text-anchor="middle">-0.3</text>
<text x="1585.5" y="2071" font-size="66" text-anchor="middle">0.0</text>
<text x="2030.0" y="2071" font-size="66" text-anchor="middle">0.3</text>
<text x="1212" y="2194" font-size="80" text-anchor="middle" xml:space="preserve"><tspan font-style="italic">E /</tspan>  V vs. Ag|AgCl</text>
<text transform="translate(99,1010) rotate(-90)" font-size="96" text-anchor="middle" xml:space="preserve"><tspan font-style="italic">C</tspan> / μF cm<tspan font-size="60" dy="-38">-2</tspan></text>
</g>
</svg>
</body></html>
